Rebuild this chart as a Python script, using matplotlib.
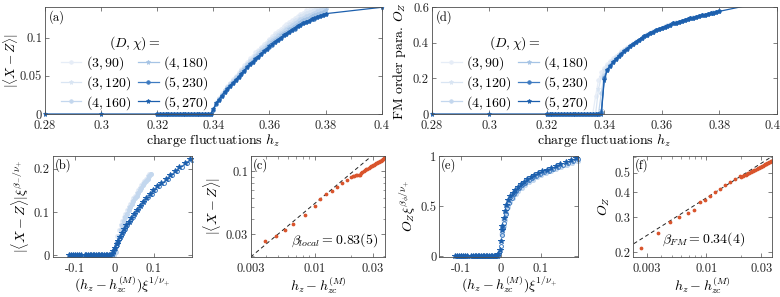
import matplotlib
matplotlib.use("Agg")
import matplotlib.pyplot as plt
import numpy as np
from matplotlib.transforms import Bbox, TransformedBbox, ScaledTranslation
from matplotlib.ticker import FixedLocator, FixedFormatter, NullFormatter, LogLocator

plt.rcParams.update({
    "font.family": "serif",
    "font.serif": ["cmr10"],
    "mathtext.fontset": "cm",
    "axes.unicode_minus": False,
    "axes.formatter.use_mathtext": True,
    "font.size": 9,
})

# ---------------- data ----------------
SERIES = ["(3,90)", "(3,120)", "(4,160)", "(4,180)", "(5,230)", "(5,270)"]
COLORS = ["#e6edf7", "#d9e5f3", "#c3d7ee", "#a6c4e5", "#3e7bc1", "#1c5fad"]
MARKERS = ["o", "*", "o", "*", "o", "*"]

H_LEFT = [0.28, 0.30]
H_RIGHT = [0.40]
H_DENSE = [0.320, 0.321, 0.322, 0.323, 0.324, 0.325, 0.326, 0.327, 0.328, 0.329,
           0.330, 0.331, 0.332, 0.333, 0.334, 0.335, 0.336, 0.337, 0.338, 0.339,
           0.340, 0.341, 0.342, 0.343, 0.344, 0.345, 0.346, 0.347, 0.348, 0.349,
           0.350, 0.351, 0.352, 0.353, 0.354, 0.355, 0.356, 0.357, 0.358, 0.359,
           0.360, 0.361, 0.362, 0.363, 0.364, 0.365, 0.366, 0.367, 0.368, 0.369,
           0.370, 0.371, 0.372, 0.373, 0.374, 0.375, 0.376, 0.377, 0.378, 0.379,
           0.380]

# |<X-Z>| on H_DENSE
XZ_3_90 = [0, 0, 0, 0, 0, 0, 0, 0, 0, 0, 0, 0, 0, 0, 0, 0, 0, 0, 0, 0,
           0.007, 0.016, 0.021, 0.027, 0.032, 0.037, 0.041, 0.046, 0.050, 0.055,
           0.059, 0.064, 0.068, 0.073, 0.076, 0.081, 0.084, 0.088, 0.092, 0.095,
           0.099, 0.102, 0.106, 0.109, 0.112, 0.115, 0.118, 0.121, 0.123, 0.126,
           0.129, 0.131, 0.133, 0.136, 0.137, 0.139, 0.141, 0.1425]
XZ_3_120 = [0, 0, 0, 0, 0, 0, 0, 0, 0, 0, 0, 0, 0, 0, 0, 0, 0, 0, 0, 0,
            0.007, 0.015, 0.021, 0.026, 0.032, 0.036, 0.040, 0.045, 0.049, 0.053,
            0.058, 0.062, 0.066, 0.071, 0.074, 0.078, 0.082, 0.086, 0.089, 0.093,
            0.097, 0.100, 0.103, 0.106, 0.109, 0.112, 0.114, 0.118, 0.120, 0.123,
            0.125, 0.128, 0.130, 0.132, 0.134, 0.135, 0.137, 0.139, 0.140]
XZ_4_160 = [0, 0, 0, 0, 0, 0, 0, 0, 0, 0, 0, 0, 0, 0, 0, 0, 0, 0, 0, 0,
            0.006, 0.015, 0.020, 0.025, 0.031, 0.035, 0.039, 0.043, 0.048, 0.052,
            0.056, 0.060, 0.065, 0.069, 0.072, 0.076, 0.080, 0.084, 0.087, 0.090,
            0.094, 0.097, 0.100, 0.103, 0.106, 0.109, 0.111, 0.114, 0.117, 0.119,
            0.122, 0.124, 0.126, 0.128, 0.130, 0.131, 0.133, 0.135, 0.136, 0.138,
            0.139]
XZ_4_180 = [0, 0, 0, 0, 0, 0, 0, 0, 0, 0, 0, 0, 0, 0, 0, 0, 0, 0, 0, 0,
            0.006, 0.014, 0.020, 0.025, 0.030, 0.034, 0.038, 0.042, 0.046, 0.050,
            0.055, 0.059, 0.063, 0.067, 0.070, 0.074, 0.077, 0.081, 0.084, 0.088,
            0.091, 0.094, 0.097, 0.100, 0.103, 0.106, 0.108, 0.111, 0.113, 0.116,
            0.118, 0.121, 0.123, 0.125, 0.126, 0.128, 0.130, 0.131, 0.132, 0.134,
            0.136]
XZ_5_230 = [0, 0, 0, 0, 0, 0, 0, 0, 0, 0, 0, 0, 0, 0, 0, 0, 0, 0, 0, 0,
            0.005, 0.013, 0.019, 0.024, 0.029, 0.033, 0.037, 0.041, 0.045, 0.049,
            0.053, 0.057, 0.061, 0.065, 0.068, 0.072, 0.075, 0.079, 0.082, 0.085,
            0.088, 0.091, 0.094, 0.097, 0.100, 0.103, 0.105, 0.108, 0.110, 0.112,
            0.115, 0.117, 0.119, 0.121, 0.122, 0.124, 0.125, 0.127, 0.128, 0.130,
            0.131]
XZ_5_270 = [0, 0, 0, 0, 0, 0, 0, 0, 0, 0, 0, 0, 0, 0, 0, 0, 0, 0, 0, 0,
            0.006, 0.014, 0.019, 0.024, 0.029, 0.033, 0.037, 0.041, 0.045, 0.049,
            0.053, 0.057, 0.061, 0.065, 0.068, 0.072, 0.075, 0.079, 0.082, 0.085,
            0.0886, 0.0915, 0.0945, 0.0975, 0.100, 0.103, 0.105, 0.108, 0.110, 0.1125,
            0.115, 0.117, 0.119, 0.121, 0.1225, 0.124, 0.1258, 0.1272, 0.1286, 0.130,
            0.1316]
XZ_5_270_LEFT = [0.0, 0.0]
XZ_5_270_RIGHT = [0.14]

# O_Z on H_DENSE
OZ_3_90 = [0, 0, 0, 0, 0, 0, 0, 0, 0, 0, 0, 0, 0, 0, 0, 0, 0, 0.10, 0.19, 0.235,
           0.26, 0.28, 0.298, 0.313, 0.327, 0.34, 0.352, 0.364, 0.375, 0.386,
           0.397, 0.408, 0.418, 0.428, 0.438, 0.447, 0.456, 0.464, 0.472, 0.479,
           0.486, 0.492, 0.498, 0.504, 0.510, 0.515, 0.520, 0.525, 0.530, 0.535,
           0.539, 0.543, 0.547, 0.551, 0.555, 0.559, 0.563, 0.567, 0.571, 0.574,
           0.578]
OZ_3_120 = [0, 0, 0, 0, 0, 0, 0, 0, 0, 0, 0, 0, 0, 0, 0, 0, 0, 0, 0.14, 0.21,
            0.245, 0.27, 0.29, 0.306, 0.321, 0.335, 0.348, 0.36, 0.372, 0.384,
            0.395, 0.407, 0.417, 0.427, 0.437, 0.447, 0.456, 0.464, 0.472, 0.479,
            0.486, 0.492, 0.498, 0.504, 0.510, 0.515, 0.520, 0.525, 0.530, 0.535,
            0.539, 0.543, 0.547, 0.551, 0.555, 0.559, 0.563, 0.567, 0.571, 0.574,
            0.578]
OZ_4_160 = [0, 0, 0, 0, 0, 0, 0, 0, 0, 0, 0, 0, 0, 0, 0, 0, 0, 0, 0, 0.12,
            0.22, 0.255, 0.278, 0.297, 0.314, 0.33, 0.344, 0.358, 0.371, 0.383,
            0.395, 0.406, 0.417, 0.427, 0.437, 0.446, 0.455, 0.463, 0.471, 0.478,
            0.485, 0.491, 0.497, 0.503, 0.509, 0.514, 0.519, 0.524, 0.529, 0.534,
            0.538, 0.542, 0.546, 0.550, 0.554, 0.558, 0.562, 0.566, 0.570, 0.573,
            0.577]
OZ_4_180 = [0, 0, 0, 0, 0, 0, 0, 0, 0, 0, 0, 0, 0, 0, 0, 0, 0, 0, 0, 0.02,
            0.21, 0.25, 0.274, 0.292, 0.309, 0.326, 0.341, 0.355, 0.369, 0.382,
            0.394, 0.406, 0.417, 0.427, 0.437, 0.446, 0.455, 0.463, 0.471, 0.478,
            0.485, 0.491, 0.497, 0.503, 0.509, 0.514, 0.519, 0.524, 0.529, 0.534,
            0.538, 0.542, 0.546, 0.550, 0.554, 0.558, 0.562, 0.566, 0.570, 0.573,
            0.577]
OZ_5_230 = [0, 0, 0, 0, 0, 0, 0, 0, 0, 0, 0, 0, 0, 0, 0, 0, 0, 0, 0, 0.01,
            0.20, 0.247, 0.271, 0.291, 0.309, 0.325, 0.34, 0.354, 0.368, 0.381,
            0.394, 0.406, 0.417, 0.427, 0.437, 0.446, 0.455, 0.463, 0.471, 0.478,
            0.485, 0.491, 0.497, 0.503, 0.509, 0.514, 0.519, 0.524, 0.529, 0.534,
            0.538, 0.542, 0.546, 0.550, 0.554, 0.558, 0.562, 0.566, 0.570, 0.573,
            0.577]
OZ_5_270 = [0, 0, 0, 0, 0, 0, 0, 0, 0, 0, 0, 0, 0, 0, 0, 0, 0, 0, 0, 0,
            0.19, 0.245, 0.27, 0.29, 0.308, 0.325, 0.34, 0.354, 0.368, 0.381,
            0.394, 0.406, 0.417, 0.427, 0.437, 0.446, 0.455, 0.463, 0.471, 0.478,
            0.485, 0.491, 0.497, 0.503, 0.509, 0.514, 0.519, 0.524, 0.529, 0.534,
            0.538, 0.542, 0.546, 0.550, 0.554, 0.558, 0.562, 0.566, 0.570, 0.573,
            0.577]
OZ_5_270_LEFT = [0.0, 0.0]
OZ_5_270_RIGHT = [0.645]

# (b) scaling collapse of |<X-Z>|
B_X_LIGHT = [-0.050, -0.045, -0.040, -0.035, -0.030, -0.025, -0.020, -0.015, -0.010, -0.005,
             0.000, 0.004, 0.008, 0.012, 0.016, 0.020, 0.024, 0.028, 0.032, 0.036,
             0.040, 0.044, 0.048, 0.052, 0.056, 0.060, 0.064, 0.068, 0.072, 0.076,
             0.080, 0.084, 0.088]
B_Y_LIGHT = [0, 0, 0, 0, 0, 0, 0, 0, 0, 0,
             0.008, 0.028, 0.045, 0.058, 0.069, 0.079, 0.088, 0.096, 0.104, 0.111,
             0.118, 0.125, 0.132, 0.138, 0.144, 0.150, 0.156, 0.162, 0.167, 0.172,
             0.177, 0.182, 0.187]
B_X_5_230 = [-0.110, -0.104, -0.098, -0.092, -0.086,
             -0.072, -0.066, -0.060, -0.054, -0.048, -0.042, -0.036, -0.030, -0.024, -0.018, -0.012,
             -0.004, 0.000, 0.004, 0.008, 0.012, 0.017, 0.022, 0.027, 0.033, 0.039,
             0.046, 0.053, 0.060, 0.068, 0.076, 0.085, 0.094, 0.103, 0.113, 0.124,
             0.135, 0.146, 0.158, 0.171, 0.184, 0.195]
B_Y_5_230 = [0, 0, 0, 0, 0,
             0, 0, 0, 0, 0, 0, 0, 0, 0, 0, 0,
             0.006, 0.013, 0.021, 0.029, 0.037, 0.045, 0.054, 0.062, 0.071, 0.080,
             0.089, 0.098, 0.107, 0.116, 0.125, 0.134, 0.142, 0.150, 0.159, 0.168,
             0.177, 0.186, 0.195, 0.204, 0.213, 0.220]
B_X_5_270 = [-0.115, -0.110, -0.105, -0.100, -0.095, -0.090, -0.085,
             -0.074, -0.070, -0.066, -0.062, -0.058, -0.054, -0.050, -0.046, -0.042, -0.038,
             -0.034, -0.030, -0.026, -0.022, -0.018, -0.014, -0.010,
             -0.006, -0.002, 0.002, 0.006, 0.010, 0.014, 0.019, 0.024, 0.030, 0.036,
             0.042, 0.049, 0.056, 0.064, 0.072, 0.080, 0.089, 0.098, 0.108, 0.118,
             0.129, 0.140, 0.152, 0.164, 0.177, 0.190]
B_Y_5_270 = [0, 0, 0, 0, 0, 0, 0,
             0, 0, 0, 0, 0, 0, 0, 0, 0, 0,
             0, 0, 0, 0, 0, 0, 0,
             0.004, 0.010, 0.018, 0.026, 0.034, 0.042, 0.051, 0.060, 0.069, 0.078,
             0.087, 0.096, 0.105, 0.114, 0.123, 0.132, 0.141, 0.150, 0.159, 0.168,
             0.177, 0.186, 0.195, 0.204, 0.213, 0.222]

# (e) scaling collapse of O_Z
E_X_LIGHT = [-0.050, -0.040, -0.030, -0.020, -0.010,
             0.000, 0.003, 0.006, 0.010, 0.015, 0.020, 0.026, 0.033, 0.040, 0.048,
             0.057, 0.066, 0.076, 0.087, 0.098, 0.110, 0.122, 0.135, 0.148, 0.162,
             0.176, 0.190]
E_Y_LIGHT = [0, 0, 0, 0, 0,
             0.22, 0.30, 0.36, 0.43, 0.49, 0.54, 0.58, 0.62, 0.655, 0.685,
             0.715, 0.74, 0.765, 0.79, 0.81, 0.83, 0.85, 0.87, 0.89, 0.91,
             0.93, 0.95]
E_X_5_230 = [-0.110, -0.104, -0.098, -0.092, -0.086,
             -0.072, -0.066, -0.060, -0.054, -0.048, -0.042, -0.036, -0.030, -0.024, -0.018, -0.012,
             -0.004, 0.001, 0.003, 0.005, 0.008, 0.012, 0.016, 0.021, 0.027, 0.033,
             0.039, 0.046, 0.054, 0.062, 0.070, 0.079, 0.089, 0.099, 0.109, 0.120,
             0.132, 0.144, 0.156, 0.169, 0.182, 0.195]
E_Y_5_230 = [0, 0, 0, 0, 0,
             0, 0, 0, 0, 0, 0, 0, 0, 0, 0, 0,
             0.03, 0.10, 0.21, 0.28, 0.33, 0.42, 0.48, 0.535, 0.58, 0.62,
             0.65, 0.68, 0.71, 0.735, 0.758, 0.78, 0.80, 0.82, 0.84, 0.858,
             0.877, 0.895, 0.912, 0.932, 0.952, 0.97]
E_X_5_270 = [-0.115, -0.110, -0.105, -0.100, -0.095, -0.090, -0.085,
             -0.074, -0.070, -0.066, -0.062, -0.058, -0.054, -0.050, -0.046, -0.042, -0.038,
             -0.034, -0.030, -0.026, -0.022, -0.018, -0.014, -0.010,
             -0.006, -0.002, 0.000, 0.002, 0.004, 0.007, 0.010, 0.014, 0.019, 0.024,
             0.030, 0.036, 0.043, 0.050, 0.058, 0.066, 0.075, 0.084, 0.094, 0.104,
             0.115, 0.126, 0.138, 0.150, 0.163, 0.176, 0.190]
E_Y_5_270 = [0, 0, 0, 0, 0, 0, 0,
             0, 0, 0, 0, 0, 0, 0, 0, 0, 0,
             0, 0, 0, 0, 0, 0, 0,
             0.02, 0.06, 0.15, 0.26, 0.30, 0.38, 0.45, 0.51, 0.56, 0.60,
             0.635, 0.665, 0.695, 0.72, 0.745, 0.77, 0.79, 0.81, 0.83, 0.85,
             0.868, 0.885, 0.905, 0.922, 0.942, 0.96, 0.985]

# (c) log-log |<X-Z>| vs h_z - h_zc
C_X = [0.0039, 0.0048, 0.0057, 0.0067, 0.0083, 0.0100, 0.0110, 0.0124, 0.0138, 0.0152,
       0.0167, 0.0184, 0.0200,
       0.0206, 0.0212, 0.0218, 0.0224, 0.0230, 0.0236, 0.0242, 0.0248, 0.0254, 0.0260,
       0.0266, 0.0272, 0.0278, 0.0284, 0.0290, 0.0296, 0.0302, 0.0308, 0.0314, 0.0320,
       0.0326, 0.0332, 0.0338, 0.0344, 0.0350, 0.0356, 0.0362, 0.0368, 0.0374, 0.0380]
C_Y = [0.0262, 0.0290, 0.0326, 0.0365, 0.0433, 0.0513, 0.0583, 0.0646, 0.0690, 0.0742,
       0.0790, 0.0843, 0.0885,
       0.0905, 0.0915, 0.0925, 0.0930, 0.0930, 0.0932, 0.0960, 0.0985, 0.1005, 0.1020,
       0.1035, 0.1050, 0.1065, 0.1080, 0.1095, 0.1108, 0.1120, 0.1133, 0.1146, 0.1158,
       0.1170, 0.1182, 0.1194, 0.1206, 0.1218, 0.1230, 0.1245, 0.1262, 0.1280, 0.1300]
C_FIT_X0, C_FIT_Y0, C_FIT_SLOPE = 0.003, 0.0196, 0.838

# (f) log-log O_Z vs h_z - h_zc
F_X = [0.00267, 0.0038, 0.0048, 0.0058, 0.00684, 0.0078, 0.0087, 0.0097, 0.0107, 0.0118,
       0.0130, 0.0145, 0.0160, 0.0177, 0.0195,
       0.0201, 0.0207, 0.0213, 0.0219, 0.0225, 0.0231, 0.0237, 0.0243, 0.0249, 0.0255,
       0.0261, 0.0267, 0.0273, 0.0279, 0.0285, 0.0291, 0.0297, 0.0303, 0.0309, 0.0315,
       0.0321, 0.0327, 0.0333, 0.0339, 0.0345, 0.0351, 0.0357, 0.0363, 0.0369, 0.0375,
       0.0381]
F_Y = [0.209, 0.250, 0.284, 0.301, 0.313, 0.327, 0.356, 0.365, 0.382, 0.400,
       0.415, 0.433, 0.449, 0.466, 0.480,
       0.477, 0.481, 0.486, 0.490, 0.494, 0.498, 0.502, 0.506, 0.509, 0.513,
       0.517, 0.520, 0.524, 0.527, 0.531, 0.534, 0.538, 0.541, 0.544, 0.547,
       0.551, 0.554, 0.557, 0.560, 0.563, 0.566, 0.569, 0.572, 0.575, 0.577,
       0.580]
F_FIT_X0, F_FIT_Y0, F_FIT_SLOPE = 0.01, 0.375, 0.363

RED = "#d9542c"
SPINE = "#4d4d4d"

# ---------------- figure ----------------
fig = plt.figure(figsize=(7.8, 2.97), dpi=100)

def style(ax):
    for s in ax.spines.values():
        s.set_color(SPINE)
        s.set_linewidth(0.6)
    ax.tick_params(which="both", direction="in", top=True, right=True,
                   color=SPINE, labelsize=9, labelcolor="#262626")
    ax.tick_params(axis="y", which="both", pad=2)
    ax.tick_params(axis="x", which="both", pad=4.5)
    ax.tick_params(which="major", length=3, width=0.5)
    ax.tick_params(which="minor", length=1.8, width=0.4)

def extend_clip(ax, artist, below=0.06):
    box = TransformedBbox(Bbox([[-0.01, -below], [1.01, 1.0]]), ax.transAxes)
    artist.set_clip_path(None)
    artist.set_clip_box(box)

def marker_size(m):
    return 3.6 if m == "*" else 2.6

def panel(ax, lab):
    ax.text(0.012, 0.975, lab, transform=ax.transAxes, ha="left", va="top", fontsize=9)

XZ_ALL = [XZ_3_90, XZ_3_120, XZ_4_160, XZ_4_180, XZ_5_230, XZ_5_270]
OZ_ALL = [OZ_3_90, OZ_3_120, OZ_4_160, OZ_4_180, OZ_5_230, OZ_5_270]

def top_panel(ax, vals_all, left_vals, right_vals, ylim, yticks, ylabel, lab, leg_x, ylx, ylfs):
    handles = []
    for i, (name, col, mk, vals) in enumerate(zip(SERIES, COLORS, MARKERS, vals_all)):
        hx = H_DENSE[:len(vals)]
        yv = list(vals)
        if i == len(SERIES) - 1:
            hx = H_LEFT + hx + H_RIGHT
            yv = left_vals + yv + right_vals
        ln, = ax.plot(hx, yv, color=col, marker=mk, ms=marker_size(mk), lw=0.9,
                      mec=col, mfc=col, mew=0.5, label=f"${name}$")
        extend_clip(ax, ln)
        handles.append(ln)
    ax.set_xlim(0.28, 0.40)
    ax.set_ylim(*ylim)
    ax.set_xticks([0.28, 0.30, 0.32, 0.34, 0.36, 0.38, 0.40])
    ax.set_xticklabels(["0.28", "0.3", "0.32", "0.34", "0.36", "0.38", "0.4"])
    ax.set_yticks(yticks[0])
    ax.set_yticklabels(yticks[1])
    ax.set_xlabel(r"charge fluctuations $h_z$", fontsize=10, labelpad=0)
    ax.set_ylabel(ylabel, fontsize=ylfs)
    ax.yaxis.set_label_coords(ylx, 0.5)
    style(ax)
    panel(ax, lab)
    ax.legend(handles=handles, ncol=2, title=r"$(D,\chi) =$", frameon=False,
              loc="lower left", bbox_to_anchor=(leg_x, -0.03), fontsize=10,
              title_fontsize=10, handlelength=1.5, handletextpad=0.3,
              columnspacing=0.5, labelspacing=0.15, borderpad=0.2, borderaxespad=0.2)
    return ax

# (a)
ax_a = fig.add_axes([0.0577, 0.6162, 0.4317, 0.3593])
top_panel(ax_a, XZ_ALL, XZ_5_270_LEFT, XZ_5_270_RIGHT, (0, 0.14),
          ([0, 0.05, 0.1], ["0", "0.05", "0.1"]), r"$|\langle X - Z\rangle|$", "(a)",
          0.03, -0.072, 9.5)

# (d)
ax_d = fig.add_axes([0.5535, 0.6162, 0.4423, 0.3593])
top_panel(ax_d, OZ_ALL, OZ_5_270_LEFT, OZ_5_270_RIGHT, (0, 0.6),
          ([0, 0.2, 0.4, 0.6], ["0", "0.2", "0.4", "0.6"]), r"FM order para. $O_Z$", "(d)",
          0.01, -0.070, 10)
# keep the last tick label inside the canvas, as in the reference
last = ax_d.get_xticklabels()[-1]
last.set_transform(last.get_transform() + ScaledTranslation(-4 / 100, 0, fig.dpi_scale_trans))

def collapse_panel(ax, light, d230, d270, ylim, yticks, ylabel, lab):
    for k, (col, mk) in enumerate([(COLORS[0], "o"), (COLORS[1], "*"), (COLORS[2], "o")]):
        xs, ys = light
        ln, = ax.plot([x + 0.002 * k for x in xs], ys, ls="none", marker=mk,
                      ms=marker_size(mk), color=col, mec=col, mfc=col)
        extend_clip(ax, ln)
    for (xs, ys), col, mk in [(d230, COLORS[4], "o"), (d270, COLORS[5], "*")]:
        ln, = ax.plot(xs, ys, ls="none", marker=mk, ms=marker_size(mk) + 0.2,
                      color=col, mec=col, mfc="none" if mk == "o" else col, mew=0.7)
        extend_clip(ax, ln)
    ax.set_xlim(-0.155, 0.195)
    ax.set_ylim(*ylim)
    ax.set_xticks([-0.1, 0, 0.1])
    ax.set_xticklabels(["-0.1", "0", "0.1"])
    ax.set_yticks(yticks[0])
    ax.set_yticklabels(yticks[1])
    ax.set_xlabel(r"$(h_z - h_{zc}^{(M)})\xi^{1/\nu_{+}}$", fontsize=10, labelpad=0)
    ax.set_ylabel(ylabel, fontsize=10, labelpad=2)
    style(ax)
    panel(ax, lab)

def loglog_panel(ax, xs, ys, fit, xlim, ylim, xt, yt, ylabel, lab, txt, txtpos):
    x0, y0, sl = fit
    fx = np.array([xlim[0] * 0.9, xlim[1] * 1.1])
    ax.plot(fx, y0 * (fx / x0) ** sl, color="#222222", lw=0.7, ls=(0, (4, 3)))
    ax.plot(xs, ys, ls="none", marker="o", ms=1.7, color=RED, mec=RED, mfc=RED)
    ax.set_xscale("log")
    ax.set_yscale("log")
    ax.set_xlim(*xlim)
    ax.set_ylim(*ylim)
    ax.xaxis.set_major_locator(FixedLocator(xt))
    ax.xaxis.set_major_formatter(FixedFormatter([str(v) for v in xt]))
    ax.yaxis.set_major_locator(FixedLocator(yt))
    ax.yaxis.set_major_formatter(FixedFormatter([str(v) for v in yt]))
    ax.xaxis.set_minor_locator(LogLocator(base=10, subs=np.arange(2, 10)))
    ax.yaxis.set_minor_locator(LogLocator(base=10, subs=np.arange(2, 10)))
    ax.xaxis.set_minor_formatter(NullFormatter())
    ax.yaxis.set_minor_formatter(NullFormatter())
    ax.set_xlabel(r"$h_z - h_{zc}^{(M)}$", fontsize=10, labelpad=0)
    ax.set_ylabel(ylabel, fontsize=10, labelpad=2)
    style(ax)
    panel(ax, lab)
    ax.text(txtpos[0], txtpos[1], txt, transform=ax.transAxes, ha="left", va="center",
            fontsize=10)

# (b)
ax_b = fig.add_axes([0.0676, 0.1357, 0.1782, 0.3401])
collapse_panel(ax_b, (B_X_LIGHT, B_Y_LIGHT), (B_X_5_230, B_Y_5_230), (B_X_5_270, B_Y_5_270),
               (-0.003, 0.23), ([0, 0.1, 0.2], ["0", "0.1", "0.2"]),
               r"$|\langle X - Z\rangle|\xi^{\beta_{-}/\nu_{+}}$", "(b)")

# (c)
ax_c = fig.add_axes([0.3218, 0.1357, 0.1718, 0.3401])
loglog_panel(ax_c, C_X, C_Y, (C_FIT_X0, C_FIT_Y0, C_FIT_SLOPE), (0.003, 0.038), (0.0196, 0.134),
             [0.003, 0.01, 0.03], [0.03, 0.1], r"$|\langle X - Z\rangle|$", "(c)",
             r"$\beta_{local} = 0.83(5)$", (0.30, 0.16))

# (e)
ax_e = fig.add_axes([0.5632, 0.1357, 0.1782, 0.3401])
collapse_panel(ax_e, (E_X_LIGHT, E_Y_LIGHT), (E_X_5_230, E_Y_5_230), (E_X_5_270, E_Y_5_270),
               (-0.007, 1.007), ([0, 0.5, 1], ["0", "0.5", "1"]),
               r"$O_Z\xi^{\beta_{\phi}/\nu_{+}}$", "(e)")

# (f)
ax_f = fig.add_axes([0.8119, 0.1357, 0.1774, 0.3401])
loglog_panel(ax_f, F_X, F_Y, (F_FIT_X0, F_FIT_Y0, F_FIT_SLOPE), (0.0023, 0.037), (0.19, 0.61),
             [0.003, 0.01, 0.03], [0.2, 0.3, 0.4, 0.5], r"$O_Z$", "(f)",
             r"$\beta_{FM} = 0.34(4)$", (0.21, 0.17))

fig.savefig("out.png", dpi=100)
